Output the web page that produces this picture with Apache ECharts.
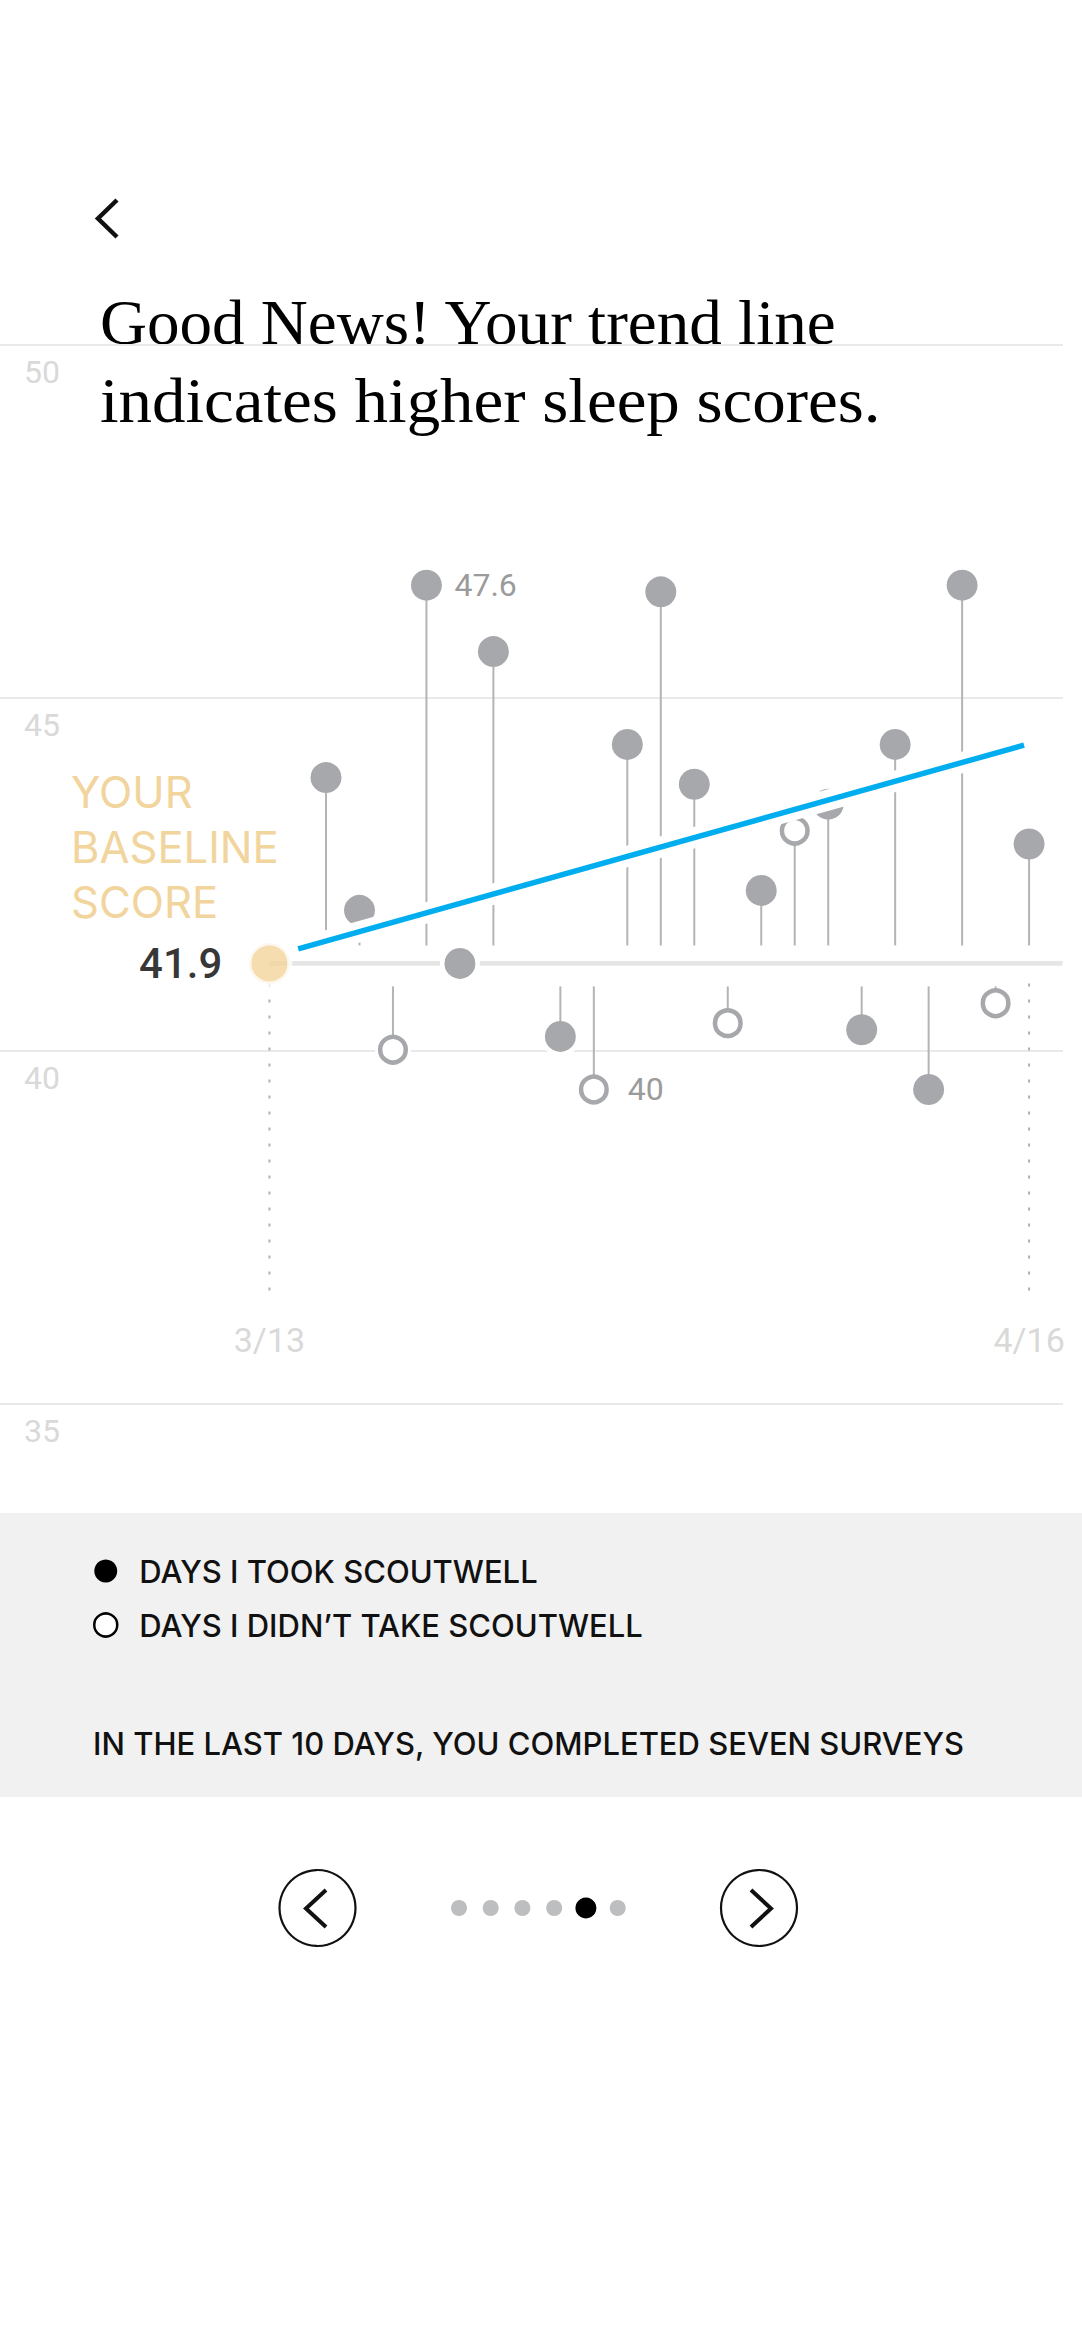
<!DOCTYPE html>
<html><head><meta charset="utf-8">
<script src="https://cdn.jsdelivr.net/npm/echarts@6/dist/echarts.min.js"></script>
<style>html,body{margin:0;padding:0;background:#fff;}#c{width:1082px;height:2342px;}</style>
</head><body><div id="c"></div>
<script>
// ---- data ----
const slotIndex = [0,1,2,3,4,5,7,8,9,10,11,12,13,14,15,16,17,18,19,20,21];
const scores    = [44.7,42.7,40.6,47.6,41.9,46.6,40.8,40.0,45.2,47.5,44.6,41.0,43.0,43.9,44.3,40.9,45.2,40.0,47.6,41.3,43.7];
const tookIt    = [1,1,0,1,1,1,1,0,1,1,1,0,1,0,1,1,1,1,1,0,1];
const annotatedSlots = [3, 8];
const baselineScore = 41.9;
const baselineSlot = -1.69;
const trendSlots = [-0.83, 20.85];
const trendScores = [42.12, 45.19];
const dateSlots = [-1.69, 21];
const dateLabels = ['3/13', '4/16'];
const gridTicks = [35, 40, 45, 50];
const seriesNames = ['DAYS I TOOK SCOUTWELL', 'DAYS I DIDN\u2019T TAKE SCOUTWELL'];
const titleLines = ['Good News! Your trend line', 'indicates higher sleep scores.'];
const baselineWords = ['YOUR', 'BASELINE', 'SCORE'];
const footerText = 'IN THE LAST 10 DAYS, YOU COMPLETED SEVEN SURVEYS';

const took = [], skipped = [];
slotIndex.forEach((s, i) => (tookIt[i] ? took : skipped).push([s, scores[i]]));

const SANS = 'Roboto';
const UI = 'Inter';
const GREY = '#a7a8ab';

function fmt(v) { return String(Math.round(v * 10) / 10); }

function pointRenderer(filled) {
  return function (params, api) {
    const x = api.value(0), v = api.value(1);
    const p = api.coord([x, v]);
    const b = api.coord([x, baselineScore]);
    const ch = [];
    ch.push({ type: 'circle', shape: { cx: p[0], cy: p[1], r: filled ? 20 : 18 }, style: { fill: '#fff' } });
    if (p[1] < b[1] - 24) {
      ch.push({ type: 'line', shape: { x1: p[0], y1: p[1], x2: p[0], y2: b[1] - 18 }, style: { stroke: '#b4b4b4', lineWidth: 2 } });
    } else if (p[1] > b[1] + 28) {
      ch.push({ type: 'line', shape: { x1: p[0], y1: b[1] + 23, x2: p[0], y2: p[1] }, style: { stroke: '#b4b4b4', lineWidth: 2 } });
    }
    if (filled) {
      ch.push({ type: 'circle', shape: { cx: p[0], cy: p[1], r: 15.5 }, style: { fill: GREY } });
    } else {
      ch.push({ type: 'circle', shape: { cx: p[0], cy: p[1], r: 12.8 }, style: { fill: '#fff', stroke: GREY, lineWidth: 4.5 } });
    }
    if (annotatedSlots.indexOf(x) >= 0) {
      ch.push({ type: 'text', x: p[0] + (filled ? 28 : 34), y: p[1],
        style: { text: fmt(v), fill: '#9b9b9b', fontSize: 32, fontFamily: SANS, align: 'left', verticalAlign: 'middle' } });
    }
    return { type: 'group', children: ch };
  };
}

const chart = echarts.init(document.getElementById('c'), null, { renderer: 'svg' });

const graphic = [
  { type: 'rect', z: -10, shape: { x: 0, y: 1513, width: 1082, height: 284 }, style: { fill: '#f1f1f1' } },
  { type: 'polyline', shape: { points: [[117, 200], [98, 218.5], [117, 237]] }, style: { stroke: '#111', lineWidth: 4.5, fill: null } },
  { type: 'text', x: 100, y: 322, scaleX: 1.017, style: { text: titleLines[0], fontSize: 64, fontFamily: 'Liberation Serif', fill: '#000', verticalAlign: 'middle' } },
  { type: 'text', x: 100, y: 400.5, scaleX: 1.046, style: { text: titleLines[1], fontSize: 64, fontFamily: 'Liberation Serif', fill: '#000', verticalAlign: 'middle' } },
  { type: 'text', x: 93, y: 1743, style: { text: footerText, fontSize: 31, fontWeight: 500, fontFamily: UI, fill: '#111', verticalAlign: 'middle' } },
  // pager
  { type: 'circle', shape: { cx: 317.5, cy: 1908, r: 38 }, style: { fill: '#fff', stroke: '#111', lineWidth: 2.2 } },
  { type: 'polyline', shape: { points: [[326, 1890], [306, 1908.5], [326, 1927]] }, style: { stroke: '#111', lineWidth: 4, fill: null } },
  { type: 'circle', shape: { cx: 759, cy: 1908, r: 38 }, style: { fill: '#fff', stroke: '#111', lineWidth: 2.2 } },
  { type: 'polyline', shape: { points: [[751, 1890], [771, 1908.5], [751, 1927]] }, style: { stroke: '#111', lineWidth: 4, fill: null } }
];
[459, 490.7, 522.4, 554.2, 585.9, 617.7].forEach((cx, i) => {
  graphic.push({ type: 'circle', shape: { cx: cx, cy: 1908, r: i === 4 ? 10.5 : 8 }, style: { fill: i === 4 ? '#000' : '#bdbec0' } });
});
baselineWords.forEach((w, i) => {
  graphic.push({ type: 'text', x: 71, y: 791.5 + i * 55, style: { text: w, fontSize: 43.5, fontFamily: UI, fill: '#f2d49d', verticalAlign: 'middle' } });
});

const option = {
  animation: false,
  backgroundColor: '#fff',
  graphic: graphic,
  legend: {
    orient: 'vertical', left: 93, top: 1555, padding: 0, itemGap: 22,
    itemWidth: 23, itemHeight: 23, selectedMode: false,
    textStyle: { fontSize: 31, fontWeight: 500, fontFamily: UI, color: '#111', lineHeight: 32, padding: [0, 0, 0, 17] },
    data: [
      { name: seriesNames[0], icon: 'circle', itemStyle: { color: '#000', borderWidth: 0 } },
      { name: seriesNames[1], icon: 'circle', itemStyle: { color: '#fff', borderColor: '#000', borderWidth: 2.5 } }
    ]
  },
  grid: [
    { left: 0, right: 19, top: 345, height: 1059 },
    { left: 259.04, right: 19.44, top: 345, height: 1059 }
  ],
  xAxis: [
    { gridIndex: 0, type: 'value', min: 0, max: 1, show: false },
    { gridIndex: 1, type: 'value', min: -2, max: 22, position: 'bottom', offset: -64.5,
      axisLine: { show: false }, axisTick: { show: false }, splitLine: { show: false },
      axisLabel: { customValues: dateSlots, margin: 0, verticalAlign: 'middle', color: '#d9d9d9', fontSize: 34, fontFamily: SANS,
        formatter: function (v) {
          let best = 0; dateSlots.forEach((s, i) => { if (Math.abs(s - v) < Math.abs(dateSlots[best] - v)) best = i; });
          return dateLabels[best];
        } } }
  ],
  yAxis: [
    { gridIndex: 0, type: 'value', min: gridTicks[0], max: gridTicks[gridTicks.length - 1], interval: 5,
      axisLine: { show: false }, axisTick: { show: false },
      splitLine: { show: true, lineStyle: { color: '#e9e9e9', width: 2 } },
      axisLabel: { inside: true, margin: 24, color: '#d9d9d9', fontSize: 32, fontFamily: SANS, verticalAlign: 'top',
        lineHeight: 32, padding: [10.5, 0, 0, 0], showMinLabel: true, showMaxLabel: true } },
    { gridIndex: 1, type: 'value', min: 35.26, max: 51.22, show: false }
  ],
  series: [
    { type: 'line', xAxisIndex: 1, yAxisIndex: 1, z: 1, silent: true, symbol: 'none', showSymbol: false,
      data: [[baselineSlot, baselineScore], [22, baselineScore]], lineStyle: { color: '#e6e6e6', width: 4.7 } },
    { type: 'custom', xAxisIndex: 1, yAxisIndex: 1, z: 1, silent: true, clip: false,
      data: dateSlots.map(s => [s, baselineScore]),
      renderItem: function (params, api) {
        const b = api.coord([api.value(0), api.value(1)]);
        const bottom = params.coordSys.y + params.coordSys.height - 103;
        return { type: 'line', shape: { x1: b[0], y1: b[1] + 20, x2: b[0], y2: bottom },
          style: { stroke: '#b0b0b0', lineWidth: 2, lineDash: [3, 13] } };
      } },
    { name: seriesNames[0], type: 'custom', xAxisIndex: 1, yAxisIndex: 1, z: 2, clip: false,
      itemStyle: { color: '#000' }, data: took, renderItem: pointRenderer(true) },
    { name: seriesNames[1], type: 'custom', xAxisIndex: 1, yAxisIndex: 1, z: 2, clip: false,
      itemStyle: { color: '#fff' }, data: skipped, renderItem: pointRenderer(false) },
    { type: 'line', xAxisIndex: 1, yAxisIndex: 1, z: 3, silent: true, symbol: 'none', showSymbol: false,
      data: trendSlots.map((s, i) => [s, trendScores[i]]), lineStyle: { color: '#fff', width: 21 } },
    { type: 'line', xAxisIndex: 1, yAxisIndex: 1, z: 4, silent: true, symbol: 'none', showSymbol: false,
      data: trendSlots.map((s, i) => [s, trendScores[i]]), lineStyle: { color: '#00aeef', width: 5.5 } },
    { type: 'scatter', xAxisIndex: 1, yAxisIndex: 1, z: 5, silent: true,
      data: [[baselineSlot, baselineScore]], symbolSize: 41,
      itemStyle: { color: '#f3d49c', borderColor: '#fff', borderWidth: 5 },
      label: { show: true, position: 'left', distance: 24, fontSize: 42, fontWeight: 500, fontFamily: SANS, color: '#000',
        formatter: p => p.value[1].toFixed(1) } }
  ]
};
chart.setOption(option);
</script></body></html>
